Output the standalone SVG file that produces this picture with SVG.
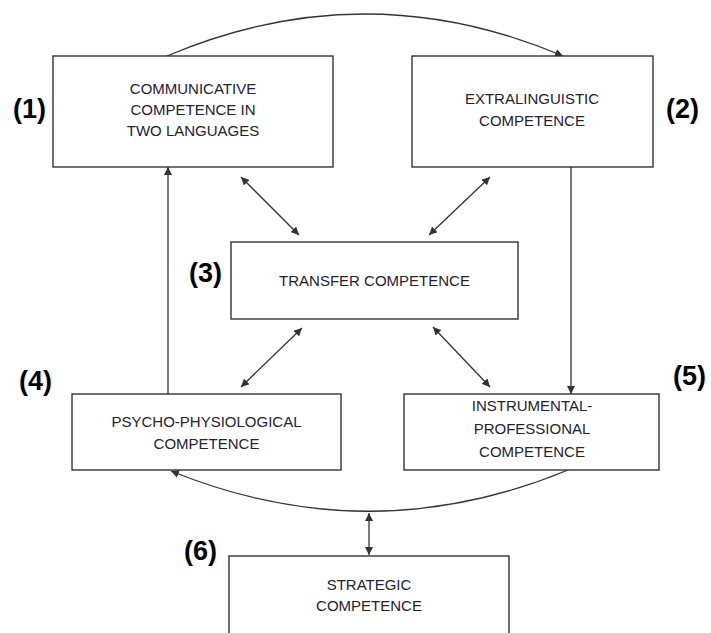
<svg xmlns="http://www.w3.org/2000/svg" width="711" height="633" viewBox="0 0 711 633">
<style>
.box{fill:#fff;stroke:#333;stroke-width:1.4}
.t{font-family:"Liberation Sans",Arial,sans-serif;font-size:15px;fill:#222233;text-anchor:middle}
.n{font-family:"Liberation Sans",Arial,sans-serif;font-size:27px;font-weight:bold;fill:#000}
.c{fill:none;stroke:#333;stroke-width:1.3}
</style>
<defs>
<marker id="ah" viewBox="0 0 10 10" refX="10" refY="5" markerWidth="8" markerHeight="8" markerUnits="userSpaceOnUse" orient="auto-start-reverse">
<path d="M0,0 L10,5 L0,10 z" fill="#333"/>
</marker>
</defs>
<rect width="711" height="633" fill="#fff"/>
<g id="connectors">
<path class="c" d="M167,56 Q365,-28 563,56" marker-end="url(#ah)"/>
<line class="c" x1="168" y1="394" x2="168" y2="167" marker-end="url(#ah)"/>
<line class="c" x1="571" y1="167" x2="571" y2="394" marker-end="url(#ah)"/>
<line class="c" x1="241" y1="177" x2="299" y2="235" marker-start="url(#ah)" marker-end="url(#ah)"/>
<line class="c" x1="490" y1="177" x2="429" y2="235" marker-start="url(#ah)" marker-end="url(#ah)"/>
<line class="c" x1="302" y1="328" x2="241" y2="387" marker-start="url(#ah)" marker-end="url(#ah)"/>
<line class="c" x1="433" y1="327" x2="490" y2="387" marker-start="url(#ah)" marker-end="url(#ah)"/>
<path class="c" d="M568,470 Q370,552 171,471" marker-end="url(#ah)"/>
<line class="c" x1="369" y1="513" x2="369" y2="555" marker-start="url(#ah)" marker-end="url(#ah)"/>
</g>
<g id="node1">
<rect class="box" x="53" y="56" width="280" height="111"/>
<text class="t" x="193" y="94">COMMUNICATIVE</text>
<text class="t" x="193" y="115">COMPETENCE IN</text>
<text class="t" x="193" y="136">TWO LANGUAGES</text>
<text class="n" x="13" y="118">(1)</text>
</g>
<g id="node2">
<rect class="box" x="412" y="56" width="241" height="111"/>
<text class="t" x="532" y="104">EXTRALINGUISTIC</text>
<text class="t" x="532" y="126">COMPETENCE</text>
<text class="n" x="666" y="118">(2)</text>
</g>
<g id="node3">
<rect class="box" x="231" y="242" width="287" height="77"/>
<text class="t" x="374.5" y="286">TRANSFER COMPETENCE</text>
<text class="n" x="189" y="282">(3)</text>
</g>
<g id="node4">
<rect class="box" x="72" y="394" width="269" height="76"/>
<text class="t" x="206.5" y="427">PSYCHO-PHYSIOLOGICAL</text>
<text class="t" x="206.5" y="449">COMPETENCE</text>
<text class="n" x="19" y="390">(4)</text>
</g>
<g id="node5">
<rect class="box" x="404" y="394" width="255" height="76"/>
<text class="t" x="532" y="411">INSTRUMENTAL-</text>
<text class="t" x="532" y="434">PROFESSIONAL</text>
<text class="t" x="532" y="457">COMPETENCE</text>
<text class="n" x="673" y="385">(5)</text>
</g>
<g id="node6">
<rect class="box" x="229" y="556" width="280" height="100"/>
<text class="t" x="369" y="590">STRATEGIC</text>
<text class="t" x="369" y="611">COMPETENCE</text>
<text class="n" x="184" y="560">(6)</text>
</g>
</svg>
